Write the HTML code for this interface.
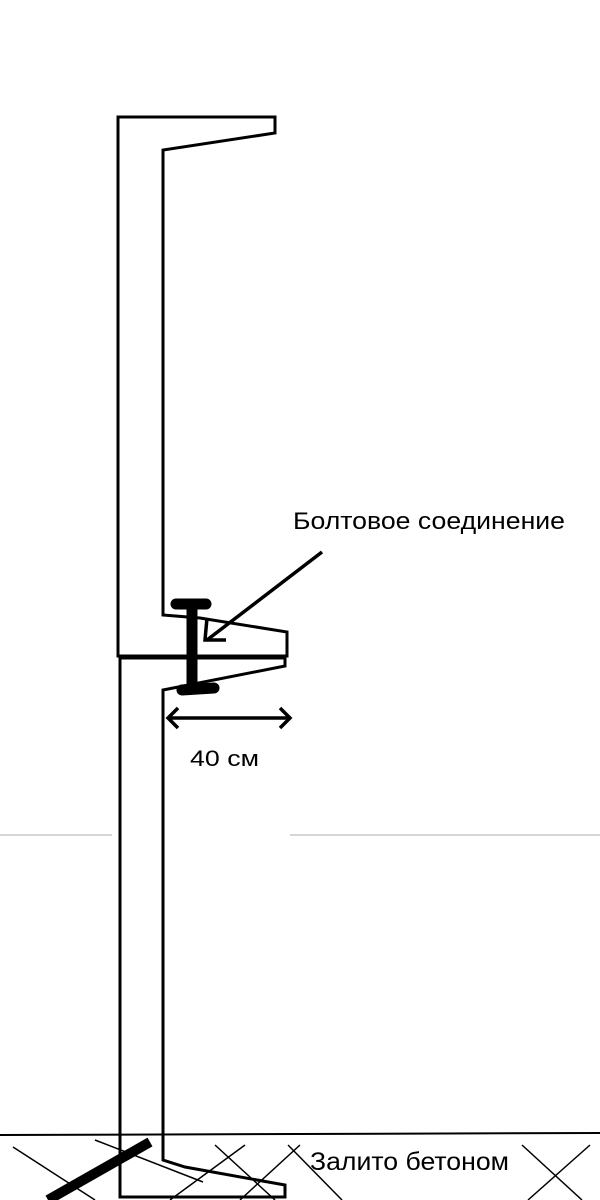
<!DOCTYPE html>
<html><head><meta charset="utf-8"><style>
html,body{margin:0;padding:0;background:#fff;}
svg{display:block}
text{font-family:"Liberation Sans",sans-serif;fill:#000}
</style></head><body>
<svg width="600" height="1200" viewBox="0 0 600 1200" xmlns="http://www.w3.org/2000/svg">
<line x1="0" y1="835" x2="112" y2="835" stroke="#c8c8c8" stroke-width="1.5"/>
<line x1="290" y1="835" x2="600" y2="835" stroke="#c8c8c8" stroke-width="1.5"/>
<g fill="none" stroke="#000" stroke-width="3" stroke-linejoin="miter">
<polygon points="118,117 275,117 275,133 163,150 163,615 200,618 287,632 287,656 118,656"/>
<polygon points="120,658 285,658 285,666 163,690 163,1160 185,1167 285,1185 285,1197 120,1197"/>
</g>
<line x1="0" y1="1135" x2="600" y2="1133" stroke="#000" stroke-width="2"/>
<g stroke="#000" stroke-width="1.5">
<line x1="13" y1="1147" x2="95" y2="1200"/>
<line x1="95" y1="1140" x2="203" y2="1182"/>
<line x1="170" y1="1200" x2="245" y2="1145"/>
<line x1="215" y1="1145" x2="275" y2="1200"/>
<line x1="240" y1="1200" x2="300" y2="1145"/>
<line x1="288" y1="1145" x2="342" y2="1200"/>
<line x1="522" y1="1145" x2="582" y2="1200"/>
<line x1="528" y1="1200" x2="590" y2="1145"/>
</g>
<line x1="48" y1="1200" x2="150" y2="1142" stroke="#000" stroke-width="10"/>
<g stroke="#000" stroke-linecap="round">
<line x1="192" y1="604" x2="192" y2="690" stroke-width="11" stroke-linecap="butt"/>
<line x1="176" y1="604" x2="206" y2="604" stroke-width="11"/>
<line x1="182" y1="690" x2="214" y2="688" stroke-width="11"/>
</g>
<g stroke="#000" stroke-width="3.5" fill="none">
<line x1="322" y1="552" x2="207" y2="640"/>
<polyline points="207,618 205,640 226,640"/>
<line x1="168" y1="718" x2="290" y2="718"/>
<polyline points="178,708 168,718 178,728"/>
<polyline points="280,708 290,718 280,728"/>
</g>
<text x="293" y="529" font-size="24" textLength="272" lengthAdjust="spacingAndGlyphs">Болтовое соединение</text>
<text x="190" y="766" font-size="22" textLength="69" lengthAdjust="spacingAndGlyphs">40 см</text>
<text x="310" y="1170" font-size="25" textLength="199" lengthAdjust="spacingAndGlyphs">Залито бетоном</text>
</svg>
</body></html>
